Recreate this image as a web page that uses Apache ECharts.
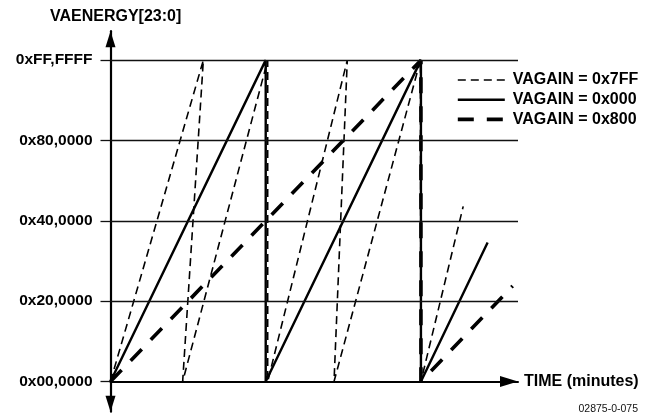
<!DOCTYPE html>
<html><head><meta charset="utf-8">
<script src="https://cdn.jsdelivr.net/npm/echarts@6/dist/echarts.min.js"></script>
<style>html,body{margin:0;padding:0;background:#fff}#c{width:655px;height:414px}</style>
</head><body><div id="c"></div>
<script>
// ---- data ----
const yLevels = [0, 1, 2, 3, 4];
const yTickLabels = ['0x00,0000', '0x20,0000', '0x40,0000', '0x80,0000', '0xFF,FFFF'];
const xTickValues = [6.26, 12.52, 18.78, 25.04];
const seriesNames = ['VAGAIN = 0x7FF', 'VAGAIN = 0x000', 'VAGAIN = 0x800'];

const gain7FFTime  = [0, 7.49, 5.82, 12.68, 12.68, 19.10, 18.03, 25.0, 25.04, 28.45];
const gain7FFLevel = [0, 4,    0,    4,     0,     4,     0,     4,    0,     2.18];
const gain000Time  = [0, 12.52, 12.52, 25.04, 25.04, 30.42];
const gain000Level = [0, 4,     0,     4,     0,     1.73];
const gain800Time  = [0, 25.04, 25.04, 32.44];
const gain800Level = [0, 4,     0,     1.19];

// ---- chart ----
const FONT = '"Liberation Sans", Arial, Helvetica, sans-serif';
const X_MAX = 32.87, Y_MIN = -0.375, Y_MAX = 4.36;
const pairs = (xs, ys) => xs.map((x, i) => [x, ys[i]]);

const chart = echarts.init(document.getElementById('c'), null, {renderer: 'canvas'});
const boldText = (size) => ({fontFamily: FONT, fontSize: size, fontWeight: 'bold', color: '#000'});

const lineStyles = [
  {color: '#000', width: 1.6, type: [8, 5]},
  {color: '#000', width: 2.4, type: 'solid'},
  {color: '#000', width: 3.6, type: [16, 13]}
];

const option = {
  animation: false,
  backgroundColor: '#fff',
  title: [
    {text: 'VAENERGY[23:0]', left: 50, top: 9, padding: 0, textStyle: boldText(16)},
    {text: '02875-0-075', right: 17, top: 404, padding: 0,
     textStyle: {fontFamily: FONT, fontSize: 10.5, fontWeight: 'normal', color: '#111'}}
  ],
  grid: {left: 110.5, top: 31.2, width: 407.5, height: 380.5, containLabel: false, outerBoundsMode: 'none'},
  legend: {
    orient: 'vertical', left: 456, top: 72, padding: 0,
    itemWidth: 47, itemHeight: 14, itemGap: 3.7,
    itemStyle: {opacity: 0},
    textStyle: Object.assign(boldText(16), {lineHeight: 16, padding: [0, 0, 0, 3]}),
    data: seriesNames.map((n, i) => ({name: n, lineStyle: lineStyles[i], itemStyle: {opacity: 0}}))
  },
  xAxis: {
    type: 'value', min: 0, max: X_MAX,
    axisLine: {onZero: true, symbol: ['none', 'triangle'], symbolSize: [11, 18], symbolOffset: [0, -9],
               lineStyle: {color: '#000', width: 2}},
    axisTick: {show: false},
    splitLine: {show: false},
    axisLabel: Object.assign(boldText(15.5), {customValues: xTickValues, margin: 8,
               formatter: v => v.toFixed(2)}),
    name: 'TIME (minutes)', nameLocation: 'end', nameGap: 6,
    nameTextStyle: Object.assign(boldText(16), {verticalAlign: 'middle', align: 'left'})
  },
  yAxis: {
    type: 'value', min: Y_MIN, max: Y_MAX,
    axisLine: {onZero: true, symbol: ['triangle', 'triangle'], symbolSize: [10, 16], symbolOffset: [8, -8],
               lineStyle: {color: '#000', width: 2.2}},
    axisTick: {show: true, customValues: yLevels, length: 10, lineStyle: {color: '#111', width: 1.3}},
    axisLabel: Object.assign(boldText(15.5), {customValues: yLevels, margin: 18,
               formatter: v => yTickLabels[yLevels.indexOf(v)]}),
    splitLine: {show: false}
  },
  series: [
    {name: seriesNames[0], type: 'line', symbol: 'none', data: pairs(gain7FFTime, gain7FFLevel),
     lineStyle: lineStyles[0], itemStyle: {color: '#000'}, z: 3},
    {name: seriesNames[1], type: 'line', symbol: 'none', data: pairs(gain000Time, gain000Level),
     lineStyle: lineStyles[1], itemStyle: {color: '#000'}, z: 3,
     markLine: {silent: true, symbol: ['none', 'none'], label: {show: false}, animation: false,
       lineStyle: {color: '#111', width: 1.3, type: 'solid'}, emphasis: {disabled: true},
       data: yLevels.filter(v => v > 0).map(v => [{coord: [0, v]}, {coord: [X_MAX, v]}])}},
    {name: seriesNames[2], type: 'line', symbol: 'none', data: pairs(gain800Time, gain800Level),
     lineStyle: lineStyles[2], itemStyle: {color: '#000'}, z: 3}
  ]
};
chart.setOption(option);
</script>
</body></html>
